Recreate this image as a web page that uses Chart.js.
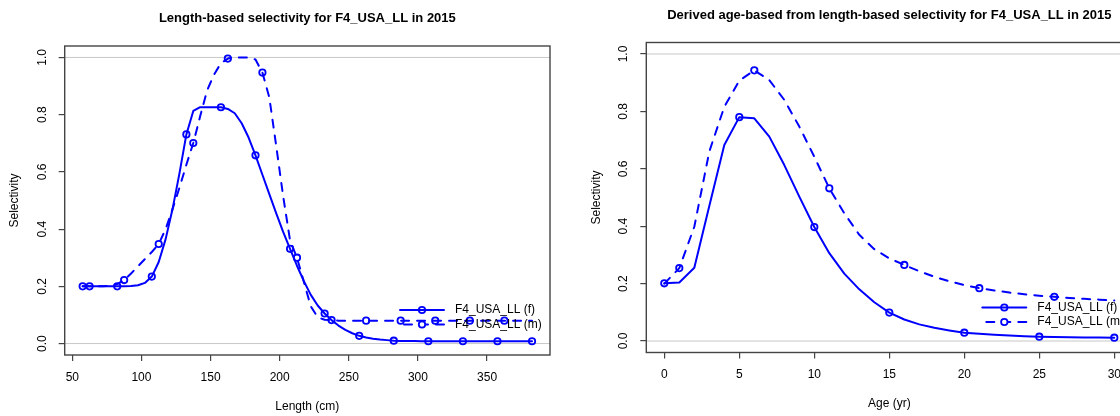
<!DOCTYPE html>
<html><head><meta charset="utf-8">
<script src="https://cdn.jsdelivr.net/npm/chart.js@4.4.1/dist/chart.umd.min.js"></script>
<style>
html,body{margin:0;padding:0;background:#fff;overflow:hidden;width:1120px;height:416px;}
#c1{position:absolute;left:0;top:0;}
#c2{position:absolute;left:560px;top:0;}
</style></head><body>
<canvas id="c1" width="560" height="416"></canvas>
<canvas id="c2" width="600" height="416"></canvas>
<script>
// ---------- data ----------
const lengthBins = [57.5,62.5,67.5,72.5,77.5,82.5,87.5,92.5,97.5,102.5,
  107.5,112.5,117.5,122.5,127.5,132.5,137.5,142.5,147.5,152.5,
  157.5,162.5,167.5,172.5,177.5,182.5,187.5,192.5,197.5,202.5,
  207.5,212.5,217.5,222.5,227.5,232.5,237.5,242.5,247.5,252.5,
  257.5,262.5,267.5,272.5,277.5,282.5,287.5,292.5,297.5,302.5,
  307.5,312.5,317.5,322.5,327.5,332.5,337.5,342.5,347.5,352.5,
  357.5,362.5,367.5,372.5,377.5,382.5];
const selLenFemale = [0.200,0.200,0.200,0.200,0.200,0.200,0.200,0.201,0.204,0.212,
  0.234,0.285,0.365,0.470,0.595,0.731,0.813,0.826,0.826,0.826,
  0.826,0.820,0.805,0.770,0.720,0.658,0.590,0.522,0.455,0.390,
  0.331,0.272,0.218,0.170,0.133,0.105,0.082,0.063,0.048,0.036,
  0.027,0.021,0.017,0.014,0.012,0.010,0.009,0.009,0.009,0.008,
  0.008,0.008,0.008,0.008,0.008,0.008,0.008,0.008,0.008,0.008,
  0.008,0.008,0.008,0.008,0.008,0.008];
const selLenMale = [0.200,0.200,0.200,0.200,0.202,0.208,0.222,0.245,0.270,0.295,
  0.320,0.348,0.400,0.470,0.545,0.625,0.701,0.795,0.885,0.940,
  0.980,0.996,1.000,1.000,1.000,0.993,0.947,0.860,0.690,0.515,
  0.360,0.300,0.215,0.130,0.092,0.083,0.082,0.080,0.080,0.080,
  0.080,0.080,0.080,0.080,0.080,0.080,0.080,0.080,0.080,0.080,
  0.080,0.080,0.080,0.080,0.080,0.080,0.080,0.080,0.080,0.080,
  0.080,0.080,0.080,0.080,0.080,0.080];
const ages = [0,1,2,3,4,5,6,7,8,9,10,11,12,13,14,15,16,17,18,19,20,21,22,23,24,25,26,27,28,29,30];
const selAgeFemale = [0.201,0.204,0.255,0.470,0.683,0.780,0.776,0.712,0.613,0.503,0.397,
  0.306,0.235,0.180,0.135,0.099,0.075,0.058,0.046,0.037,0.029,
  0.025,0.022,0.019,0.017,0.015,0.014,0.013,0.0125,0.012,0.0115];
const selAgeMale = [0.200,0.254,0.398,0.660,0.816,0.907,0.943,0.909,0.840,0.747,0.642,
  0.532,0.445,0.370,0.320,0.288,0.265,0.243,0.224,0.208,0.195,
  0.184,0.176,0.169,0.163,0.158,0.154,0.150,0.147,0.144,0.141];
const lengthTicks = [50,100,150,200,250,300,350];
const ageTicks = [0,5,10,15,20,25,30];
const selTicks = [0,0.2,0.4,0.6,0.8,1.0];
const selTickLabels = ['0.0','0.2','0.4','0.6','0.8','1.0'];
const seriesLabels = ['F4_USA_LL (f)','F4_USA_LL (m)'];

// ---------- drawing ----------
const FONT = '"Liberation Sans", Arial, sans-serif';
const BLUE = '#0000ff';
const DASH = [8,8];

const rPlot = {
  id: 'rPlot',
  beforeDatasetsDraw(chart, args, o) {
    const {ctx, chartArea: a} = chart;
    const y = chart.scales.y;
    ctx.save();
    ctx.strokeStyle = '#c8c8c8';
    ctx.lineWidth = 1;
    [0, 1].forEach(v => {
      const py = y.getPixelForValue(v);
      ctx.beginPath(); ctx.moveTo(a.left, py); ctx.lineTo(a.right, py); ctx.stroke();
    });
    ctx.restore();
  },
  afterDraw(chart, args, o) {
    const {ctx, chartArea: a} = chart;
    const y = chart.scales.y;
    ctx.save();
    // box
    ctx.strokeStyle = '#444';
    ctx.lineWidth = 1.4;
    ctx.strokeRect(a.left, a.top, a.right - a.left, a.bottom - a.top);
    // y tick labels (rotated, R style)
    ctx.fillStyle = '#000';
    ctx.font = '12px ' + FONT;
    ctx.textAlign = 'center';
    ctx.textBaseline = 'middle';
    selTicks.forEach((v, i) => {
      const py = y.getPixelForValue(v);
      ctx.save();
      ctx.translate(a.left - 22.5, py);
      ctx.rotate(-Math.PI / 2);
      ctx.fillText(selTickLabels[i], 0, 0);
      ctx.restore();
    });
    // y axis title
    ctx.save();
    ctx.translate(a.left - 50, (a.top + a.bottom) / 2);
    ctx.rotate(-Math.PI / 2);
    ctx.fillText('Selectivity', 0, 0);
    ctx.restore();
    // x axis title
    ctx.fillText(o.xTitle, (a.left + a.right) / 2, a.bottom + 51.5);
    // main title
    ctx.font = 'bold 13px ' + FONT;
    ctx.fillText(o.title, (a.left + a.right) / 2, a.top - 27.5);
    // legend
    ctx.font = '12px ' + FONT;
    ctx.textAlign = 'left';
    const ly = [a.bottom - 45, a.bottom - 30.5];
    chart.data.datasets.forEach((ds, i) => {
      const yy = ly[i];
      ctx.strokeStyle = BLUE;
      ctx.lineWidth = 2;
      ctx.lineCap = 'round';
      ctx.setLineDash(i === 1 ? DASH : []);
      ctx.lineDashOffset = i === 1 ? -4 : 0;
      ctx.beginPath(); ctx.moveTo(a.right - 150, yy); ctx.lineTo(a.right - 106, yy); ctx.stroke();
      ctx.setLineDash([]);
      ctx.lineWidth = 1.8;
      ctx.beginPath(); ctx.arc(a.right - 128, yy, 3.2, 0, Math.PI * 2);
      if (i === 1) { ctx.fillStyle = '#fff'; ctx.fill(); }
      ctx.stroke();
      ctx.fillStyle = '#000';
      ctx.fillText(ds.label, a.right - 95, yy);
    });
    ctx.restore();
  }
};

function makeChart(id, xs, fem, male, xmin, xmax, xticks, area, title, xTitle) {
  const canvas = document.getElementById(id);
  const W = canvas.width, H = canvas.height;
  const ptFn = off => (ctx => (ctx.dataIndex % 5 === off ? 3.2 : 0));
  const mk = (arr, i) => ({
    label: seriesLabels[i],
    data: xs.map((x, k) => ({x: x, y: arr[k]})),
    borderColor: BLUE,
    borderWidth: 2,
    borderDash: i === 1 ? DASH : [],
    borderCapStyle: 'round',
    borderJoinStyle: 'round',
    tension: 0,
    fill: false,
    pointRadius: ptFn(i),
    pointHoverRadius: 0,
    pointBorderWidth: 1.8,
    pointBorderColor: BLUE,
    pointBackgroundColor: 'rgba(0,0,0,0)'
  });
  return new Chart(canvas, {
    type: 'line',
    data: {datasets: [mk(fem, 0), mk(male, 1)]},
    options: {
      responsive: false,
      animation: false,
      devicePixelRatio: 1,
      events: [],
      layout: {padding: {left: 0, top: area.top, right: W - area.right, bottom: 0}},
      plugins: {
        legend: {display: false},
        tooltip: {enabled: false},
        title: {display: false},
        rPlot: {title: title, xTitle: xTitle}
      },
      scales: {
        x: {
          type: 'linear', min: xmin, max: xmax,
          afterBuildTicks: s => { s.ticks = xticks.map(v => ({value: v})); },
          afterFit: s => { s.height = H - area.bottom; },
          grid: {drawOnChartArea: false, drawTicks: true, tickLength: 6, color: '#444', lineWidth: 1.2},
          border: {display: false},
          ticks: {color: '#000', padding: 9, font: {family: FONT, size: 12}, maxRotation: 0, autoSkip: false,
                  callback: v => String(v)}
        },
        y: {
          type: 'linear', min: -0.04, max: 1.04,
          afterBuildTicks: s => { s.ticks = selTicks.map(v => ({value: v})); },
          afterFit: s => { s.width = area.left; },
          grid: {drawOnChartArea: false, drawTicks: true, tickLength: 6, color: '#444', lineWidth: 1.2},
          border: {display: false},
          ticks: {display: false}
        }
      }
    },
    plugins: [rPlot]
  });
}

makeChart('c1', lengthBins, selLenFemale, selLenMale, 44.5, 395.5, lengthTicks,
  {left: 64.7, top: 46, right: 550, bottom: 355},
  'Length-based selectivity for F4_USA_LL in 2015', 'Length (cm)');
makeChart('c2', ages, selAgeFemale, selAgeMale, -1.2, 31.2, ageTicks,
  {left: 86.3, top: 42.5, right: 572.3, bottom: 352.5},
  'Derived age-based from length-based selectivity for F4_USA_LL in 2015', 'Age (yr)');
</script>
</body></html>
